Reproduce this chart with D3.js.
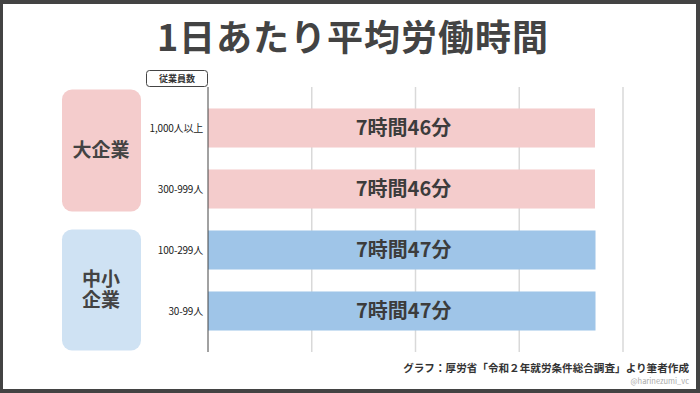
<!DOCTYPE html>
<html>
<head>
<meta charset="utf-8">
<script src="https://cdn.jsdelivr.net/npm/d3@7"></script>
<style>
  html, body { margin: 0; padding: 0; background: #434343; }
  svg { display: block; font-family: "Noto Sans CJK JP", "Noto Sans", sans-serif; }
</style>
</head>
<body>
<svg id="chart" width="700" height="393"></svg>
<script>
// data
const categories = ["1,000人以上", "300-999人", "100-299人", "30-99人"];
const hours = [7.46, 7.46, 7.47, 7.47];
const barLabels = ["7時間46分", "7時間46分", "7時間47分", "7時間47分"];
const groupOf = [0, 0, 1, 1];
const groups = [["大企業"], ["中小", "企業"]];
const gridTicks = [2, 4, 6, 8];

const barColors = ["#f4cccc", "#9fc5e8"];
const boxColors = ["#f4cccc", "#cfe2f3"];

const svg = d3.select("#chart");

// white card with dark frame
svg.append("rect")
  .attr("x", 3).attr("y", 4)
  .attr("width", 693).attr("height", 385)
  .attr("fill", "#fff");

svg.append("text")
  .attr("x", 353).attr("y", 51)
  .attr("text-anchor", "middle")
  .attr("font-size", 36)
  .attr("font-weight", 700)
  .attr("letter-spacing", 1)
  .attr("fill", "#434343")
  .text("1日あたり平均労働時間");

const x = d3.scaleLinear().domain([0, 8]).range([208, 623]);
const y = d3.scaleBand()
  .domain(categories)
  .range([97.5, 341.5])
  .paddingInner(0.36)
  .paddingOuter(0.18);

const plotTop = 87, plotBottom = 352;

// gridlines
svg.append("g")
  .selectAll("line")
  .data(gridTicks)
  .join("line")
  .attr("x1", d => x(d)).attr("x2", d => x(d))
  .attr("y1", plotTop).attr("y2", plotBottom)
  .attr("stroke", "#d9d9d9")
  .attr("stroke-width", 1.5);

// group boxes
const bw = y.bandwidth();
const boxes = [
  { y0: y(categories[0]) - 19, y1: y(categories[1]) + bw + 3 },
  { y0: y(categories[2]) - 1, y1: y(categories[3]) + bw + 20 }
];
svg.append("g")
  .selectAll("rect")
  .data(boxes)
  .join("rect")
  .attr("x", 62).attr("width", 79)
  .attr("y", d => d.y0)
  .attr("height", d => d.y1 - d.y0)
  .attr("rx", 10)
  .attr("fill", (d, i) => boxColors[i]);

boxes.forEach((b, i) => {
  const lines = groups[i];
  const cy = (b.y0 + b.y1) / 2;
  const lh = 21;
  svg.append("g")
    .selectAll("text")
    .data(lines)
    .join("text")
    .attr("text-anchor", "middle")
    .attr("font-size", 19)
    .attr("font-weight", 700)
    .attr("fill", "#434343")
    .attr("x", 101)
    .attr("y", (d, j) => cy + (j - (lines.length - 1) / 2) * lh)
    .attr("dy", "0.36em")
    .text(d => d);
});

// bars
svg.append("g")
  .selectAll("rect")
  .data(hours)
  .join("rect")
  .attr("x", x(0))
  .attr("y", (d, i) => y(categories[i]))
  .attr("width", d => x(d) - x(0))
  .attr("height", bw)
  .attr("fill", (d, i) => barColors[groupOf[i]]);

svg.append("g")
  .selectAll("text")
  .data(barLabels)
  .join("text")
  .attr("x", (d, i) => (x(0) + x(hours[i])) / 2 + 2)
  .attr("y", (d, i) => y(categories[i]) + bw / 2)
  .attr("dy", "0.36em")
  .attr("text-anchor", "middle")
  .attr("font-size", 20)
  .attr("font-weight", 700)
  .attr("fill", "#3c3c3c")
  .text(d => d);

// category labels
svg.append("g")
  .selectAll("text")
  .data(categories)
  .join("text")
  .attr("x", 203)
  .attr("y", d => y(d) + bw / 2)
  .attr("dy", "0.36em")
  .attr("text-anchor", "end")
  .attr("font-size", 10)
  .attr("letter-spacing", -0.2)
  .attr("fill", "#222")
  .text(d => d);

// axis line
svg.append("line")
  .attr("x1", x(0)).attr("x2", x(0))
  .attr("y1", plotTop).attr("y2", plotBottom)
  .attr("stroke", "#444")
  .attr("stroke-width", 1);

// header box
svg.append("rect")
  .attr("x", 146.5).attr("y", 70.5)
  .attr("width", 61).attr("height", 16)
  .attr("rx", 3)
  .attr("fill", "#fff")
  .attr("stroke", "#444")
  .attr("stroke-width", 1);
svg.append("text")
  .attr("x", 177).attr("y", 78.5)
  .attr("dy", "0.36em")
  .attr("text-anchor", "middle")
  .attr("font-size", 9)
  .attr("font-weight", 700)
  .attr("fill", "#333")
  .text("従業員数");

// source
svg.append("text")
  .attr("x", 689).attr("y", 372)
  .attr("text-anchor", "end")
  .attr("font-size", 10.6)
  .attr("font-weight", 700)
  .attr("fill", "#333")
  .text("グラフ：厚労省「令和２年就労条件総合調査」より筆者作成");

svg.append("text")
  .attr("x", 689).attr("y", 384)
  .attr("text-anchor", "end")
  .attr("font-size", 7.5)
  .attr("fill", "#aaa")
  .text("@harinezumi_vc");
</script>
</body>
</html>
